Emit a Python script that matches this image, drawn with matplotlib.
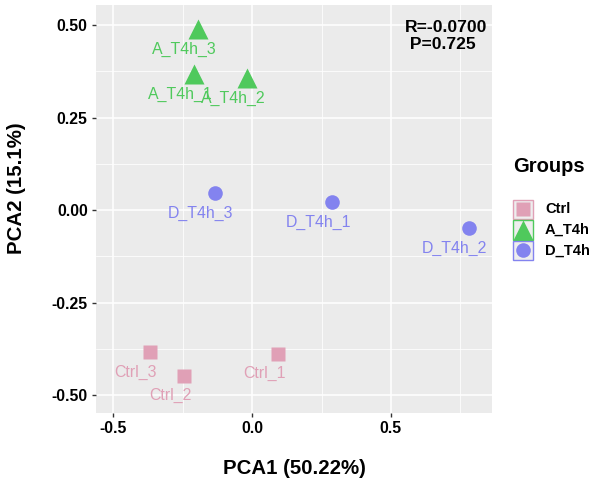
import matplotlib
matplotlib.use("Agg")
import matplotlib.pyplot as plt
from matplotlib.patches import Rectangle
from matplotlib.lines import Line2D

plt.rcParams['font.family'] = ['Liberation Sans', 'DejaVu Sans']

# ---- data ----
groups = ["Ctrl", "A_T4h", "D_T4h"]
group_colors = ["#E0A0B6", "#4FC95C", "#8383EF"]
group_markers = ["s", "^", "o"]
group_msizes = [10, 15, 10.5]

sample_names = ["Ctrl_1", "Ctrl_2", "Ctrl_3",
                "A_T4h_1", "A_T4h_2", "A_T4h_3",
                "D_T4h_1", "D_T4h_2", "D_T4h_3"]
sample_groups = ["Ctrl", "Ctrl", "Ctrl",
                 "A_T4h", "A_T4h", "A_T4h",
                 "D_T4h", "D_T4h", "D_T4h"]
pca1 = [0.095, -0.244, -0.369, -0.209, -0.018, -0.195, 0.288, 0.780, -0.134]
pca2 = [-0.388, -0.447, -0.384, 0.367, 0.356, 0.488, 0.021, -0.049, 0.045]

x_ticks = [-0.5, 0.0, 0.5]
x_ticklabels = ["-0.5", "0.0", "0.5"]
y_ticks = [-0.50, -0.25, 0.00, 0.25, 0.50]
y_ticklabels = ["-0.50", "-0.25", "0.00", "0.25", "0.50"]
x_minor = [-0.25, 0.25, 0.75]
y_minor = [-0.375, -0.125, 0.125, 0.375]

stat_lines = ["R=-0.0700", " P=0.725"]
xlabel = "PCA1 (50.22%)"
ylabel = "PCA2 (15.1%)"
legend_title = "Groups"

# ---- figure ----
W, H = 600, 486
fig = plt.figure(figsize=(6.0, 4.86), dpi=100)
ax = fig.add_axes([96 / W, 1 - 412.7 / H, (491.7 - 96) / W, (412.7 - 5) / H])
ax.set_facecolor("#EBEBEB")
ax.set_xlim(-0.5624, 0.863)
ax.set_ylim(-0.547, 0.554)

for s in ax.spines.values():
    s.set_visible(False)

ax.set_xticks(x_ticks)
ax.set_xticklabels(x_ticklabels)
ax.set_yticks(y_ticks)
ax.set_yticklabels(y_ticklabels)
ax.set_xticks(x_minor, minor=True)
ax.set_yticks(y_minor, minor=True)
ax.grid(True, which="major", color="white", lw=1.1)
ax.grid(True, which="minor", color="white", lw=0.55)
ax.set_axisbelow(True)
ax.tick_params(which="major", length=3, width=1.0, color="#333333",
               labelsize=11.4, labelcolor="black", pad=3)
ax.tick_params(which="minor", length=0)
for lab in ax.get_xticklabels() + ax.get_yticklabels():
    lab.set_fontweight("bold")

cmap = dict(zip(groups, group_colors))
mmap = dict(zip(groups, group_markers))
smap = dict(zip(groups, group_msizes))

for name, g, x, y in zip(sample_names, sample_groups, pca1, pca2):
    ax.plot([x], [y], linestyle="none", marker=mmap[g], ms=smap[g],
            color=cmap[g], mec="none", zorder=3)
    ax.annotate(name, (x, y), xytext=(-14, -20), textcoords="offset pixels",
                ha="center", va="center", fontsize=11.4, color=cmap[g], zorder=4)

# statistics annotation
ax.text(0.55, 0.480, stat_lines[0], fontsize=12.6, fontweight="bold",
        ha="left", va="baseline")
ax.text(0.55, 0.434, stat_lines[1], fontsize=12.6, fontweight="bold",
        ha="left", va="baseline")

# axis titles
fig.text(294 / W, 1 - 468 / H, xlabel, fontsize=14.7, fontweight="bold",
         ha="center", va="center")
fig.text(17 / W, 1 - 188 / H, ylabel, fontsize=14.7, fontweight="bold",
         ha="center", va="center", rotation=90)

# legend (manual)
fig.text(513 / W, 1 - 166.7 / H, legend_title, fontsize=14.5, fontweight="bold",
         ha="left", va="center")
key_top = 199.3
key_h = 20.6
for i, g in enumerate(groups):
    top = key_top + i * key_h
    fig.add_artist(Rectangle((513 / W, 1 - (top + key_h - 0.8) / H),
                             20 / W, (key_h - 1.2) / H,
                             transform=fig.transFigure, facecolor="#EEEEEE",
                             edgecolor=cmap[g], lw=1.0))
    cy = top + key_h / 2 - 0.4
    fig.add_artist(Line2D([523 / W], [1 - cy / H], transform=fig.transFigure,
                          linestyle="none", marker=mmap[g], ms=smap[g],
                          color=cmap[g], mec="none"))
    fig.text(545 / W, 1 - cy / H, g, fontsize=10.6, fontweight="bold",
             ha="left", va="center")

fig.savefig("out.png", dpi=100, facecolor="white")
